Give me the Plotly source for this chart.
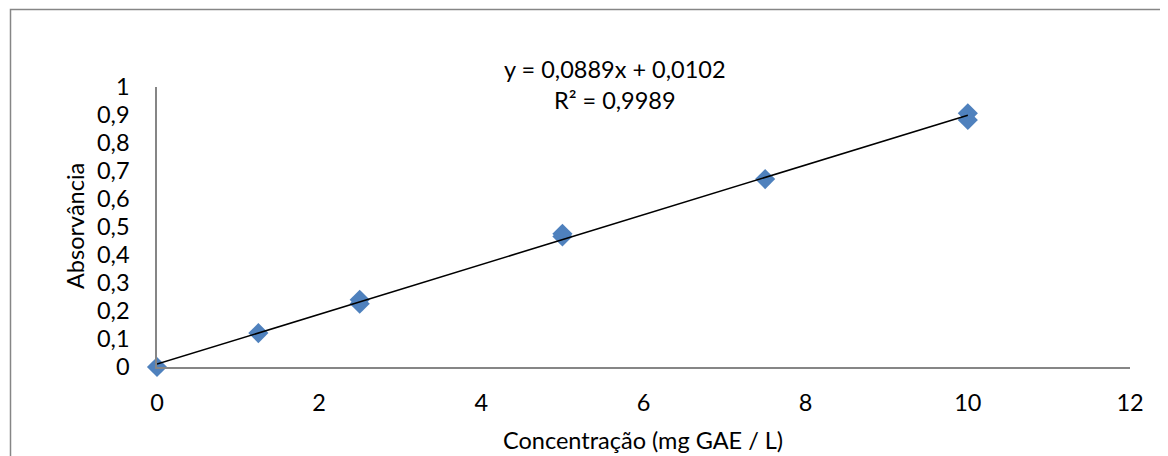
import plotly.graph_objects as go

conc = [0, 1.25, 2.5, 2.5, 5, 5, 7.5, 10, 10]
absorb = [0.0, 0.121, 0.240, 0.226, 0.476, 0.466, 0.671, 0.906, 0.882]
slope = 0.0889
intercept = 0.0102
fit_x = [0, 10]
y_ticks = [0, 0.1, 0.2, 0.3, 0.4, 0.5, 0.6, 0.7, 0.8, 0.9, 1]
y_tick_labels = ["0", "0,1", "0,2", "0,3", "0,4", "0,5", "0,6", "0,7", "0,8", "0,9", "1"]
x_ticks = [0, 2, 4, 6, 8, 10, 12]
x_tick_labels = ["0", "2", "4", "6", "8", "10", "12"]
eq_text = "y = 0,0889x + 0,0102<br>R² = 0,9989"

FONT = "Lato, 'Open Sans', sans-serif"
FS = 23.5
OFF = 8  # default page body margin
W, H = 1160, 448
L, R, T, B = 149, 38, 79, 89
pw = W - L - R
ph = H - T - B

fig = go.Figure()
fig.add_trace(go.Scatter(
    x=conc, y=absorb, mode="markers",
    marker=dict(symbol="diamond", size=15.5, color="#4F81BD", line=dict(width=0)),
    cliponaxis=False, showlegend=False))
fig.add_trace(go.Scatter(
    x=fit_x, y=[slope * v + intercept for v in fit_x], mode="lines",
    line=dict(color="black", width=1.5), cliponaxis=False, showlegend=False))

fig.update_layout(
    width=W, height=H, autosize=False,
    margin=dict(l=L, r=R, t=T, b=B, pad=0),
    paper_bgcolor="white", plot_bgcolor="white",
    font=dict(family=FONT, size=FS, color="black"),
    separators=",.",
    xaxis=dict(range=[0, 12], tickvals=x_ticks, ticktext=x_tick_labels,
               showgrid=False, zeroline=False, showline=True,
               linecolor="#868686", linewidth=1.5, ticks="",
               ticklabelstandoff=14, fixedrange=True),
    yaxis=dict(range=[0, 1], tickvals=y_ticks, ticktext=y_tick_labels,
               showgrid=False, zeroline=False, showline=True,
               linecolor="#868686", linewidth=1.5, ticks="",
               ticklabelstandoff=21, fixedrange=True),
)

def px_x(p):
    return (p - OFF - L) / pw

def px_y(p):
    return (H - B - (p - OFF)) / ph

fig.add_shape(type="rect", xref="paper", yref="paper",
              x0=px_x(10.5), x1=px_x(1180), y0=px_y(470), y1=px_y(9.5),
              line=dict(color="#868686", width=1.5), fillcolor="rgba(0,0,0,0)")

fig.add_annotation(xref="paper", yref="paper", x=px_x(615), y=px_y(84),
                   text=eq_text, showarrow=False, align="center",
                   xanchor="center", yanchor="middle",
                   font=dict(family=FONT, size=FS, color="black"))
fig.add_annotation(xref="paper", yref="paper", x=px_x(643), y=px_y(440),
                   text="Concentração (mg GAE / L)", showarrow=False,
                   xanchor="center", yanchor="middle",
                   font=dict(family=FONT, size=FS, color="black"))
fig.add_annotation(xref="paper", yref="paper", x=px_x(75), y=px_y(226),
                   text="Absorvância", showarrow=False, textangle=-90,
                   xanchor="center", yanchor="middle",
                   font=dict(family=FONT, size=FS, color="black"))

fig.write_html("out.html", config=dict(displayModeBar=False))
